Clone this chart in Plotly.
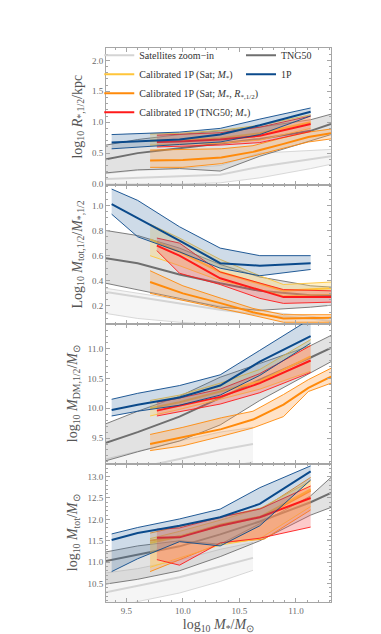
import plotly.graph_objects as go
from plotly.subplots import make_subplots

# x positions (log10 M*/Msun) of each binned relation
X_1P = [9.37, 9.6, 9.97, 10.33, 10.68, 11.13]
X_TNG = [9.32, 9.6, 9.97, 10.33, 10.68, 11.13, 11.31]
X_SAT_CUT = [9.32, 9.6, 9.97, 10.33, 10.62]
X_YEL = [9.71, 9.97, 10.33, 10.68, 11.13]
X_YEL_EXT = [9.71, 9.97, 10.33, 10.68, 10.89, 11.31]
X_RED = [9.77, 9.97, 10.33, 10.68, 11.13]
X_RED_EXT = [9.77, 9.97, 10.33, 10.68, 10.89, 11.31]
X_ORA = [9.71, 10.0, 10.34, 10.62, 10.89, 11.11, 11.31]
X_ORA_CUT = [9.71, 10.0, 10.34, 10.72, 11.13]

# panel 1: log10 R_{*,1/2}/kpc   (lower, median, upper)
R_SAT = ([0.0, 0.0, 0.0, 0.02, 0.10, 0.25, 0.32],
         [0.08, 0.10, 0.12, 0.15, 0.28, 0.40, 0.45],
         [0.17, 0.22, 0.25, 0.30, 0.50, 0.55, 0.56])
R_TNG = ([0.18, 0.23, 0.25, 0.21, 0.45, 0.70, 0.80],
         [0.40, 0.50, 0.58, 0.66, 0.73, 0.86, 0.97],
         [0.63, 0.72, 0.80, 0.86, 0.92, 1.04, 1.13])
R_ORA = ([0.27, 0.27, 0.33, 0.45, 0.58, 0.68, 0.73],
         [0.38, 0.39, 0.43, 0.52, 0.65, 0.76, 0.82],
         [0.55, 0.56, 0.57, 0.62, 0.75, 0.84, 0.89])
R_YEL = ([0.63, 0.64, 0.66, 0.71, 0.90],
         [0.70, 0.71, 0.74, 0.82, 1.00],
         [0.81, 0.82, 0.87, 0.95, 1.12])
R_RED = ([0.60, 0.61, 0.63, 0.67, 0.85],
         [0.68, 0.69, 0.72, 0.78, 0.97],
         [0.79, 0.80, 0.83, 0.92, 1.10])
R_1P = ([0.57, 0.60, 0.64, 0.68, 0.80, 1.10],
        [0.67, 0.69, 0.72, 0.80, 0.95, 1.17],
        [0.80, 0.82, 0.84, 0.90, 1.05, 1.23])

# panel 2: log10 M_tot,1/2 / M_*,1/2
F_SAT = ([0.14, 0.10, 0.07, 0.05, 0.04, 0.03, 0.02],
         [0.31, 0.27, 0.22, 0.17, 0.13, 0.10, 0.08],
         [0.34, 0.30, 0.25, 0.20, 0.16, 0.12, 0.10])
F_TNG = ([0.38, 0.33, 0.26, 0.19, 0.165, 0.19, 0.205],
         [0.58, 0.54, 0.45, 0.38, 0.32, 0.285, 0.285],
         [0.80, 0.76, 0.66, 0.53, 0.43, 0.36, 0.35])
F_ORA = ([0.30, 0.245, 0.18, 0.125, 0.07, 0.07, 0.07],
         [0.39, 0.30, 0.22, 0.15, 0.10, 0.105, 0.105],
         [0.48, 0.36, 0.26, 0.18, 0.13, 0.13, 0.13])
F_YEL = ([0.60, 0.52, 0.40, 0.33, 0.28, 0.29],
         [0.73, 0.63, 0.47, 0.38, 0.32, 0.34],
         [0.85, 0.74, 0.57, 0.44, 0.37, 0.39])
F_RED = ([0.64, 0.46, 0.37, 0.26, 0.22, 0.23],
         [0.68, 0.60, 0.42, 0.33, 0.27, 0.27],
         [0.74, 0.70, 0.47, 0.38, 0.33, 0.32])
F_1P = ([0.93, 0.75, 0.63, 0.50, 0.44, 0.49],
        [1.01, 0.90, 0.72, 0.54, 0.52, 0.54],
        [1.13, 1.04, 0.83, 0.66, 0.60, 0.60])

# panel 3: log10 M_DM,1/2 / Msun
D_SAT = ([8.60, 8.70, 8.85, 9.00, 9.10],
         [8.90, 9.00, 9.15, 9.30, 9.40],
         [9.15, 9.28, 9.45, 9.60, 9.68])
D_TNG = ([9.12, 9.27, 9.45, 9.72, 10.13, 10.59, 10.78],
         [9.42, 9.60, 9.86, 10.18, 10.48, 10.85, 11.01],
         [9.74, 9.95, 10.20, 10.52, 10.75, 11.05, 11.22])
D_ORA = ([9.29, 9.37, 9.53, 9.67, 9.86, 10.28, 10.42],
         [9.40, 9.51, 9.65, 9.81, 10.06, 10.34, 10.53],
         [9.56, 9.68, 9.84, 9.95, 10.23, 10.48, 10.67])
D_YEL = ([9.87, 9.98, 10.15, 10.32, 10.62],
         [10.00, 10.10, 10.28, 10.45, 10.87],
         [10.13, 10.22, 10.42, 10.65, 11.15])
D_RED = ([9.87, 9.94, 10.07, 10.26, 10.60],
         [9.96, 10.04, 10.19, 10.42, 10.80],
         [10.10, 10.17, 10.32, 10.58, 11.05])
D_1P = ([9.87, 9.95, 10.05, 10.22, 10.55, 11.09],
        [9.97, 10.06, 10.18, 10.38, 10.78, 11.21],
        [10.15, 10.25, 10.38, 10.56, 10.97, 11.50])

# panel 4: log10 M_tot / Msun
T_SAT = ([9.85, 10.08, 10.28, 10.55, 10.81],
         [10.30, 10.45, 10.65, 10.90, 11.10],
         [10.75, 10.85, 11.05, 11.30, 11.46])
T_TNG = ([10.49, 10.60, 10.80, 11.13, 11.50, 12.10, 12.28],
         [11.03, 11.17, 11.37, 11.65, 11.95, 12.40, 12.62],
         [11.24, 11.38, 11.50, 11.42, 11.90, 12.55, 12.98])
T_ORA = ([10.78, 11.08, 11.45, 11.54, 12.22],
         [11.50, 11.62, 11.88, 12.08, 12.67],
         [11.68, 11.85, 12.05, 12.28, 12.98])
T_YEL = ([10.88, 11.10, 11.40, 11.55, 12.30],
         [11.45, 11.60, 11.85, 12.05, 12.70],
         [11.55, 11.72, 11.98, 12.25, 12.90])
T_RED = ([11.06, 10.93, 11.45, 11.56, 11.82],
         [11.57, 11.58, 11.85, 12.05, 12.50],
         [11.77, 11.80, 12.05, 12.24, 12.78])
T_1P = ([10.78, 11.08, 11.48, 11.38, 11.85, 12.92],
        [11.52, 11.68, 11.85, 12.05, 12.36, 13.12],
        [11.66, 11.81, 12.01, 12.24, 12.74, 13.25])

STYLE = {
    'sat': dict(name='Satellites zoom\u2212in', line='#d4d4d4', fill='rgba(225,225,225,0.35)',
                legend='legend', rank=1),
    'yel': dict(name='Calibrated 1P (Sat; <i>M</i><sub>*</sub>)', line='#ffc53a',
                fill='rgba(255,215,110,0.35)', legend='legend', rank=2),
    'ora': dict(name='Calibrated 1P (Sat; <i>M</i><sub>*</sub>, <i>R</i><sub>*,1/2</sub>)', line='#ff8a0a',
                fill='rgba(255,160,70,0.3)', legend='legend', rank=3),
    'red': dict(name='Calibrated 1P (TNG50; <i>M</i><sub>*</sub>)', line='#ff1a1a',
                fill='rgba(250,80,80,0.3)', legend='legend', rank=4),
    'tng': dict(name='TNG50', line='#6f6f6f', fill='rgba(160,160,160,0.3)', legend='legend2', rank=1),
    '1p': dict(name='1P', line='#0b4a8b', fill='rgba(60,110,165,0.25)', legend='legend2', rank=2),
}

PANELS = [
    [('sat', X_TNG, R_SAT), ('tng', X_TNG, R_TNG), ('ora', X_ORA, R_ORA),
     ('yel', X_YEL, R_YEL), ('red', X_RED, R_RED), ('1p', X_1P, R_1P)],
    [('sat', X_TNG, F_SAT), ('tng', X_TNG, F_TNG), ('ora', X_ORA, F_ORA),
     ('yel', X_YEL_EXT, F_YEL), ('red', X_RED_EXT, F_RED), ('1p', X_1P, F_1P)],
    [('sat', X_SAT_CUT, D_SAT), ('tng', X_TNG, D_TNG), ('ora', X_ORA, D_ORA),
     ('yel', X_YEL, D_YEL), ('red', X_RED, D_RED), ('1p', X_1P, D_1P)],
    [('sat', X_SAT_CUT, T_SAT), ('tng', X_TNG, T_TNG), ('ora', X_ORA_CUT, T_ORA),
     ('yel', X_YEL, T_YEL), ('red', X_RED, T_RED), ('1p', X_1P, T_1P)],
]

fig = make_subplots(rows=4, cols=1, shared_xaxes=True, vertical_spacing=0)

for row, panel in enumerate(PANELS, start=1):
    for key, x, (lo, med, hi) in panel:
        st = STYLE[key]
        # shaded band between lower and upper curves
        fig.add_trace(go.Scatter(x=x + x[::-1], y=hi + lo[::-1], fill='toself', fillcolor=st['fill'],
                                 mode='none', hoverinfo='skip', showlegend=False), row=row, col=1)
        for y in (lo, hi):
            fig.add_trace(go.Scatter(x=x, y=y, mode='lines', line=dict(color=st['line'], width=0.9),
                                     hoverinfo='skip', showlegend=False), row=row, col=1)
        fig.add_trace(go.Scatter(x=x, y=med, mode='lines', name=st['name'],
                                 line=dict(color=st['line'], width=2),
                                 showlegend=(row == 1), legend=st['legend'], legendrank=st['rank']),
                      row=row, col=1)

font_fam = 'Liberation Serif'
axis_style = dict(showline=True, linecolor='#a6a6a6', linewidth=1, mirror='allticks', ticks='inside',
                  ticklen=4, tickcolor='#a6a6a6', showgrid=False, zeroline=False,
                  tickfont=dict(size=9, color='#6a6a6a', family=font_fam),
                  minor=dict(ticks='inside', ticklen=2, tickcolor='#a6a6a6'))

fig.update_xaxes(**axis_style, range=[9.32, 11.31], tick0=9.5, dtick=0.5, tickformat='.1f')
fig.update_xaxes(minor_dtick=0.1)
fig.update_xaxes(title=dict(text='log<sub>10</sub> <i>M</i><sub>*</sub>/<i>M</i><sub>\u2299</sub>',
                            font=dict(size=14, color='#555555', family=font_fam), standoff=4), row=4, col=1)

ytitles = ['log<sub>10</sub> <i>R</i><sub>*,1/2</sub>/kpc',
           'Log<sub>10</sub> <i>M</i><sub>tot,1/2</sub>/<i>M</i><sub>*,1/2</sub>',
           'log<sub>10</sub> <i>M</i><sub>DM,1/2</sub>/<i>M</i><sub>\u2299</sub>',
           'log<sub>10</sub> <i>M</i><sub>tot</sub>/<i>M</i><sub>\u2299</sub>']
yranges = [[-0.02, 2.2], [0.06, 1.16], [9.07, 11.42], [10.07, 13.3]]
ydticks = [0.5, 0.2, 0.5, 0.5]
yminor = [0.1, 0.05, 0.1, 0.1]
for i in range(4):
    fig.update_yaxes(**axis_style, range=yranges[i], tick0=0, dtick=ydticks[i], tickformat='.1f',
                     title=dict(text=ytitles[i], font=dict(size=14, color='#555555', family=font_fam),
                                standoff=6),
                     row=i + 1, col=1)
    fig.update_yaxes(minor_dtick=yminor[i], row=i + 1, col=1)

legend_font = dict(size=10, color='#333333', family=font_fam)
fig.update_layout(
    width=381, height=634,
    margin=dict(l=98, r=58, t=40, b=37),
    paper_bgcolor='white', plot_bgcolor='white',
    font=dict(family=font_fam),
    legend=dict(x=-0.03, y=1.013, xanchor='left', yanchor='top', bgcolor='rgba(0,0,0,0)',
                font=legend_font, tracegroupgap=0, itemwidth=30),
    legend2=dict(x=0.6, y=1.013, xanchor='left', yanchor='top', bgcolor='rgba(0,0,0,0)',
                 font=legend_font, tracegroupgap=0, itemwidth=30),
)
# keep the four panels at the reference heights
doms = [[0.7522, 1.0], [0.5027, 0.7522], [0.2496, 0.5027], [0.0, 0.2496]]
for i, d in enumerate(doms):
    fig.update_yaxes(domain=d, row=i + 1, col=1)

fig.write_html("out.html")
